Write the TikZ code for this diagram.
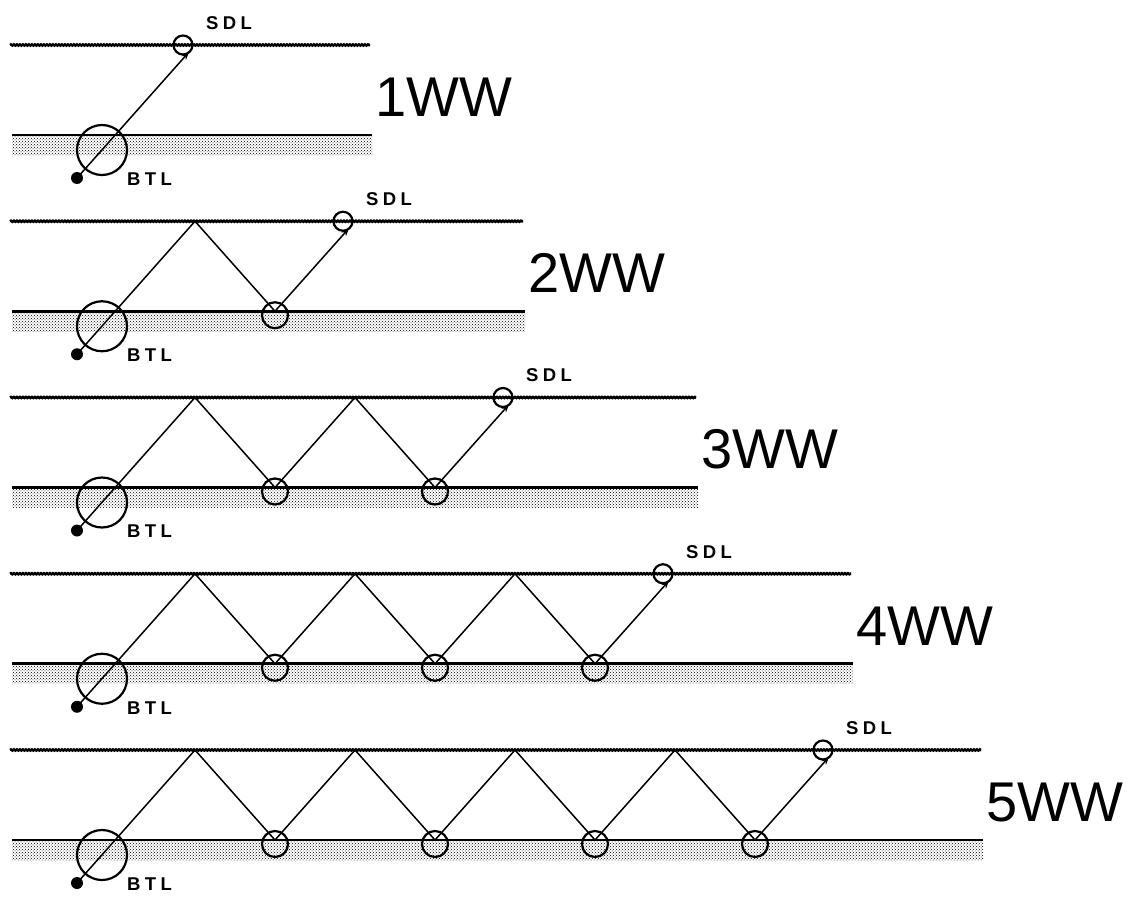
\documentclass[tikz,border=0pt]{standalone}
\usepackage{fontspec}
\setmainfont{Liberation Sans}
\newfontfamily\lblfont{Liberation Sans Bold}[LetterSpace=24]
\usetikzlibrary{arrows.meta,patterns,decorations.pathmorphing}

\begin{document}
\begin{tikzpicture}[x=1pt,y=-1pt,>={Stealth[length=8pt,width=6pt]},
  ray/.style={line width=1.5pt},
  surf/.style={line width=2.6pt,decorate,decoration={snake,amplitude=0.5pt,segment length=3pt}},
  floor/.style={line width=2.6pt},
  sand/.style={pattern=crosshatch dots,pattern color=black},
  ring/.style={circle,draw,line width=2.2pt,inner sep=0pt},
  lbl/.style={font=\lblfont\fontsize{18.5}{18.5}\selectfont,inner sep=0pt},
  mode/.style={font=\fontsize{56}{56}\selectfont,anchor=west,inner sep=0pt}]
\useasboundingbox (0,0) rectangle (1129,899);
\foreach \n/\r in {1/372,2/525,3/698,4/853,5/983}{
  \pgfmathsetmacro{\yt}{45+176.25*(\n-1)}
  \pgfmathsetmacro{\yb}{\yt+90}
  \pgfmathsetmacro{\xp}{195+160*(\n-1)}
  \pgfmathtruncatemacro{\m}{\n-1}
  % seabed and sea surface
  \fill[sand] (12,\yb) rectangle (\r,\yb+20);
  \draw[floor] (12,\yb) -- (\r,\yb);
  \draw[surf] (10,\yt) -- (\r-2,\yt);
  % source and receiver
  \node[circle,fill,minimum size=12pt,inner sep=0pt] (dot\n) at (77,\yt+133) {};
  \node[ring,minimum size=50pt] (btl\n) at (102,\yb+15) {};
  \node[lbl,anchor=west] (btlname\n) at (127,\yb+44) {BTL};
  \node[ring,minimum size=19pt] (sdl\n) at (\xp-12,\yt) {};
  \node[lbl] (sdlname\n) at (\xp+34,\yt-22) {SDL};
  \coordinate (tip\n) at (\xp-6,\yt+7);
  \node[mode] (mode\n) at (\r+3,\yt+52) {\n WW};
  % ray path
  \ifnum\n>1
    \foreach \k in {1,...,\m}{
      \coordinate (pk\n-\k) at (195+160*\k-160,\yt);
      \coordinate (vx\n-\k) at (275+160*\k-160,\yb);
      \node[ring,minimum size=26pt] (hit\n-\k) at (275+160*\k-160,\yb+4) {};
    }
    \draw[ray] (dot\n.center) foreach \k in {1,...,\m}{ -- (pk\n-\k) -- (vx\n-\k) };
    \draw[ray,->] (vx\n-\m) -- (tip\n);
  \else
    \draw[ray,->] (dot\n.center) -- (tip\n);
  \fi
}
\end{tikzpicture}
\end{document}
